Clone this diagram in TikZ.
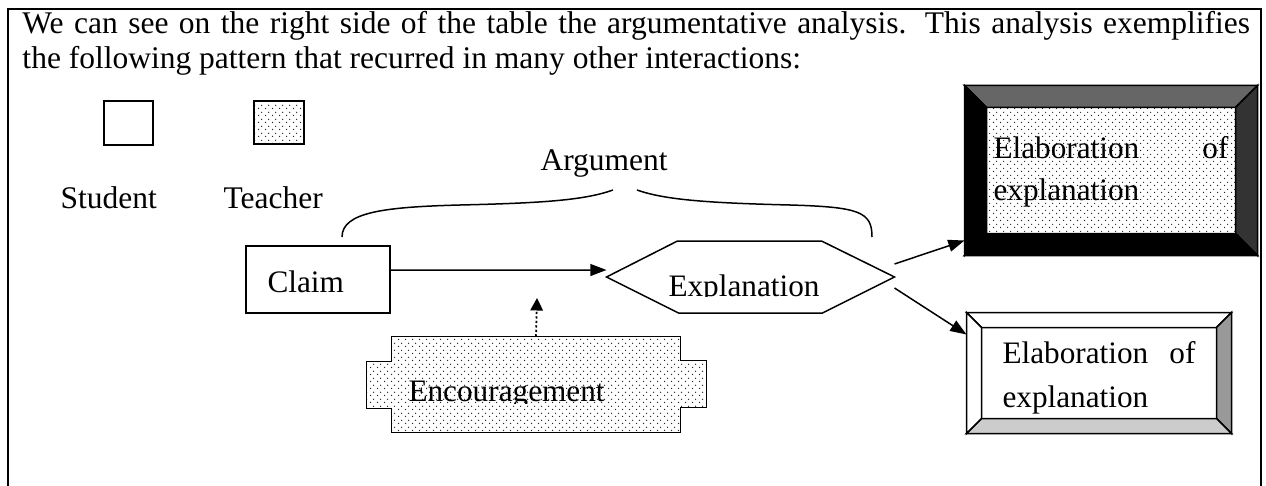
\documentclass[tikz,border=0pt]{standalone}
\usepackage{fontspec}
\setmainfont{Liberation Serif}
\usetikzlibrary{arrows.meta,patterns}

% fine dotted shading of the teacher turns
\pgfdeclarepatternformonly{fine dots}{\pgfqpoint{-.7pt}{-.7pt}}{\pgfqpoint{2.1pt}{2.1pt}}{\pgfqpoint{2.8pt}{2.8pt}}{%
  \pgfpathcircle{\pgfqpoint{0pt}{0pt}}{.33pt}
  \pgfpathcircle{\pgfqpoint{1.4pt}{1.4pt}}{.33pt}
  \pgfusepath{fill}}

\begin{document}
\begin{tikzpicture}[x=0.4pt,y=-0.4pt,
    font=\fontsize{12.6}{15}\selectfont,
    box/.style={draw,line width=0.6pt},
    dotfill/.style={pattern=fine dots,pattern color=black!85},
    arr/.style={line width=0.6pt,-{Triangle[length=6.5pt,width=4.8pt]}},
    txt/.style={anchor=base west,inner sep=0pt},
    lbl/.style={txt,font=\fontsize{12.5}{15}\selectfont}]
  \useasboundingbox (0,0) rectangle (1266,486);
  \draw[line width=0.8pt] (8,486) -- (8,9) -- (1261,9) -- (1261,486);

  \node[txt] (introA) at (22,34) {\makebox[491pt][s]{We can see on the right side of the table the argumentative analysis. This analysis exemplifies}};
  \node[txt] (introB) at (22,69) {the following pattern that recurred in many other interactions:};

  % legend
  \node[box,minimum width=19.6pt,minimum height=17.6pt,inner sep=0pt] (student) at (128.5,123) {};
  \node[box,dotfill,minimum width=20pt,minimum height=17.2pt,inner sep=0pt] (teacher) at (279,122.5) {};
  \node[txt] (studentlbl) at (60,208) {Student};
  \node[txt] (teacherlbl) at (223,208) {Teacher};

  % argument brace
  \node[txt] (arglbl) at (540,170) {Argument};
  \draw[line width=0.6pt] (342,237) .. controls (342,212) and (385,207) .. (460,205)
    .. controls (545,203) and (585,200) .. (613,190);
  \draw[line width=0.6pt] (637,190) .. controls (665,200) and (710,203) .. (790,205)
    .. controls (860,207) and (872,212) .. (872,237);

  % claim
  \node[box,minimum width=57.6pt,minimum height=26.8pt,inner sep=0pt] (claim) at (318,279.5) {};
  \node[lbl] (claimlbl) at (267,292) {Claim};

  % explanation
  \node[minimum width=114.8pt,minimum height=28.8pt,inner sep=0pt] (expl) at (750.5,277) {};
  \draw[box] (expl.west) -- ++(71,-36) -- ++(144,0) -- (expl.east) -- ++(-72,36) -- ++(-144,0) -- cycle;
  \begin{scope}
    \clip (600,230) rectangle (900,296);
    \node[lbl] (expllbl) at (668,296) {Explanation};
  \end{scope}
  \draw[arr] ([yshift=3.8pt]claim.east) -- ([yshift=2.8pt]expl.west);

  % encouragement
  \node[minimum width=115.2pt,minimum height=38pt,inner sep=0pt] (enc) at (536,384.5) {};
  \draw[box,dotfill] (enc.north west) -- (enc.north east) -- ++(0,24) -- ++(26,0) -- ++(0,47)
    -- ++(-26,0) -- (enc.south east) -- (enc.south west) -- ++(0,-24) -- ++(-25,0)
    -- ++(0,-47) -- ++(25,0) -- cycle;
  \begin{scope}
    \clip (380,340) rectangle (700,403);
    \node[lbl] (enclbl) at (408,401) {Encouragement};
  \end{scope}
  \coordinate (enctip) at (537,298);
  \draw[line width=0.7pt,dash pattern=on 0.9pt off 0.9pt,-{Triangle[length=5pt,width=5pt]}] (enc.north) -- (enctip);

  % elaboration, dark frame
  \node[minimum width=116.8pt,minimum height=67.6pt,inner sep=0pt] (elabA) at (1111,170.5) {};
  \path (elabA.north west) ++(22,22) coordinate (aNW)
        (elabA.north east) ++(-22,22) coordinate (aNE)
        (elabA.south east) ++(-22,-22) coordinate (aSE)
        (elabA.south west) ++(22,-22) coordinate (aSW);
  \filldraw[box,fill=black!60] (elabA.north west) -- (elabA.north east) -- (aNE) -- (aNW) -- cycle;
  \filldraw[box,fill=black!80] (elabA.north east) -- (elabA.south east) -- (aSE) -- (aNE) -- cycle;
  \filldraw[box,fill=black] (elabA.south east) -- (elabA.south west) -- (aSW) -- (aSE) -- cycle;
  \filldraw[box,fill=black] (elabA.south west) -- (elabA.north west) -- (aNW) -- (aSW) -- cycle;
  \draw[box,dotfill] (aNW) rectangle (aSE);
  \node[lbl] (elabAa) at (993,158) {\makebox[94pt][s]{Elaboration of}};
  \node[lbl] (elabAb) at (993,200) {explanation};

  % elaboration, light frame
  \node[minimum width=105.6pt,minimum height=48pt,inner sep=0pt] (elabB) at (1099,373) {};
  \path (elabB.north west) ++(15,15) coordinate (bNW)
        (elabB.north east) ++(-15,15) coordinate (bNE)
        (elabB.south east) ++(-15,-15) coordinate (bSE)
        (elabB.south west) ++(15,-15) coordinate (bSW);
  \filldraw[box,fill=white] (elabB.north west) -- (elabB.north east) -- (bNE) -- (bNW) -- cycle;
  \filldraw[box,fill=black!40] (elabB.north east) -- (elabB.south east) -- (bSE) -- (bNE) -- cycle;
  \filldraw[box,fill=black!20] (elabB.south east) -- (elabB.south west) -- (bSW) -- (bSE) -- cycle;
  \filldraw[box,fill=white] (elabB.south west) -- (elabB.north west) -- (bNW) -- (bSW) -- cycle;
  \draw[box] (bNW) rectangle (bSE);
  \node[lbl] (elabBa) at (1002,363) {\makebox[77.2pt][s]{Elaboration of}};
  \node[lbl] (elabBb) at (1002,407) {explanation};

  \draw[arr] ([yshift=5.2pt]expl.east) -- ([yshift=6pt]elabA.south west);
  \draw[arr] ([yshift=-4.4pt]expl.east) -- ([yshift=-8.8pt]elabB.north west);
\end{tikzpicture}
\end{document}
